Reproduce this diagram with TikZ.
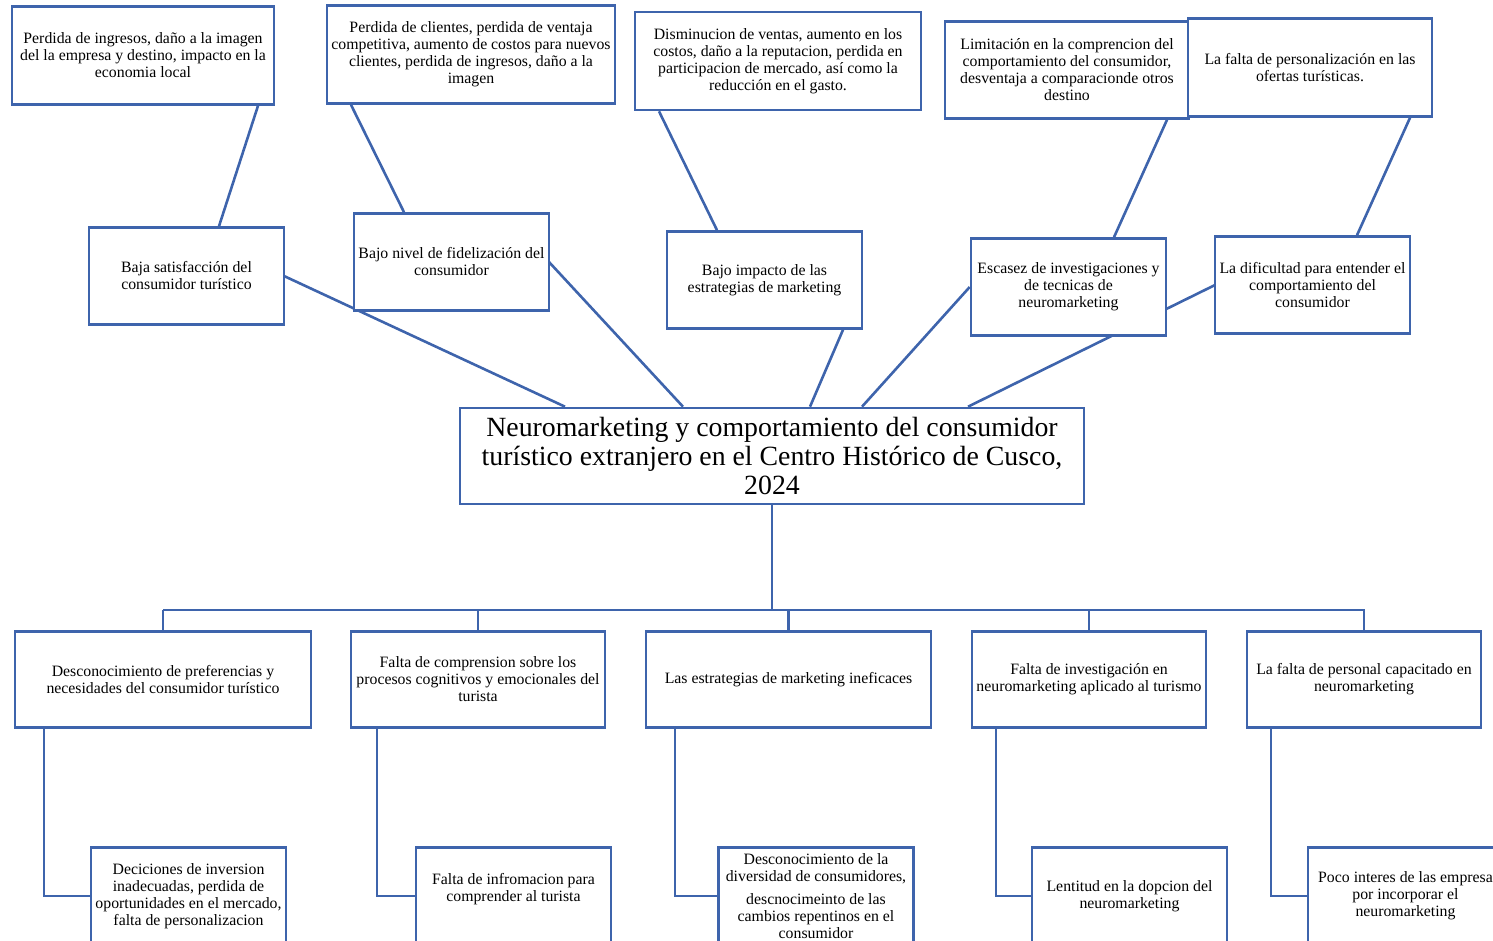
\documentclass[tikz,border=0pt]{standalone}
\usepackage{fontspec}
\setmainfont{Liberation Serif}
\definecolor{bl}{RGB}{62,100,172}
\tikzset{
  box/.style={draw=bl, line width=2.6pt, fill=white, align=center, inner sep=1pt,
    font=\fontsize{15.8}{17}\selectfont},
  wire/.style={draw=bl, line width=2.6pt},
}
\begin{document}
\begin{tikzpicture}[x=1pt,y=-1pt]
\useasboundingbox (0,0) rectangle (1493,941);
\clip (0,0) rectangle (1493,941);
% top row
\node[box, minimum width=262pt, minimum height=98pt] (T1) at (143,55.5) {Perdida de ingresos, daño a la imagen\\del la empresa y destino, impacto en la\\economia local};
\node[box, minimum width=288pt, minimum height=98pt] (T2) at (471,54.5) {Perdida de clientes, perdida de ventaja\\competitiva, aumento de costos para nuevos\\clientes, perdida de ingresos, daño a la\\imagen};
\node[box, minimum width=286pt, minimum height=98pt] (T3) at (778,61) {Disminucion de ventas, aumento en los\\costos, daño a la reputacion, perdida en\\participacion de mercado, así como la\\reducción en el gasto.};
\node[box, minimum width=244pt, minimum height=97pt] (T4) at (1067,70) {Limitación en la comprencion del\\comportamiento del consumidor,\\desventaja a comparacionde otros\\destino};
\node[box, minimum width=244pt, minimum height=98pt] (T5) at (1310,67.5) {La falta de personalización en las\\ofertas turísticas.};
% middle row anchor points
\coordinate (M1c) at (186.5,276);
\coordinate (M2c) at (451.5,262);
\coordinate (M5c) at (1312.5,285);
% center
\node[box, minimum width=624pt, minimum height=96pt, font=\fontsize{27.8}{29}\selectfont] (X) at (772,456) {Neuromarketing y comportamiento del consumidor\\turístico extranjero en el Centro Histórico de Cusco,\\2024};
% connectors middle -> center that pass behind boxes
\draw[wire] ([xshift=-207pt]X.north) -- ([xshift=97.5pt]M1c);
\draw[wire] ([xshift=-89pt]X.north) -- ([xshift=97.5pt]M2c);
\draw[wire] ([xshift=196pt]X.north) -- ([xshift=-97.5pt]M5c);
\node[box, minimum width=195pt, minimum height=97pt] (M1) at (M1c) {Baja satisfacción del\\consumidor turístico};
\node[box, minimum width=195pt, minimum height=97pt] (M2) at (M2c) {Bajo nivel de fidelización del\\consumidor};
\node[box, minimum width=195pt, minimum height=97pt] (M3) at (764.5,280) {Bajo impacto de las\\estrategias de marketing};
\node[box, minimum width=195pt, minimum height=97pt] (M4) at (1068.5,287) {Escasez de investigaciones y\\de tecnicas de\\neuromarketing};
\node[box, minimum width=195pt, minimum height=97pt] (M5) at (M5c) {La dificultad para entender el\\comportamiento del\\consumidor};
\draw[wire] ([xshift=78.5pt]M3.south) -- ([xshift=38pt]X.north);
\draw[wire] (M4.west) -- ([xshift=90pt]X.north);
% top -> middle
\draw[wire] ([xshift=115pt]T1.south) -- ([xshift=32.5pt]M1.north);
\draw[wire] ([xshift=-120pt]T2.south) -- ([xshift=-47.5pt]M2.north);
\draw[wire] ([xshift=-119pt]T3.south) -- ([xshift=-47.5pt]M3.north);
\draw[wire] ([xshift=100pt]T4.south) -- ([xshift=45.5pt]M4.north);
\draw[wire] ([xshift=100pt]T5.south) -- ([xshift=44.5pt]M5.north);
% bottom rows
\node[box, minimum width=296pt, minimum height=96pt] (B1) at (163,679.5) {Desconocimiento de preferencias y\\necesidades del consumidor turístico};
\node[box, minimum width=254pt, minimum height=96pt] (B2) at (478,679.5) {Falta de comprension sobre los\\procesos cognitivos y emocionales del\\turista};
\node[box, minimum width=285pt, minimum height=96pt] (B3) at (788.5,679.5) {Las estrategias de marketing ineficaces};
\node[box, minimum width=234pt, minimum height=96pt] (B4) at (1089,679.5) {Falta de investigación en\\neuromarketing aplicado al turismo};
\node[box, minimum width=234pt, minimum height=96pt] (B5) at (1364,679.5) {La falta de personal capacitado en\\neuromarketing};
\node[box, minimum width=195pt, minimum height=97pt] (C1) at (188.5,896) {Deciciones de inversion\\inadecuadas, perdida de\\oportunidades en el mercado,\\falta de personalizacion};
\node[box, minimum width=195pt, minimum height=97pt] (C2) at (513.5,896) {Falta de infromacion para\\comprender al turista\\\mbox{}};
\node[box, minimum width=195pt, minimum height=97pt] (C3) at (816,896) {Desconocimiento de la\\diversidad de consumidores,\\[6pt]descnocimeinto de las\\cambios repentinos en el\\consumidor};
\node[box, minimum width=195pt, minimum height=97pt] (C4) at (1129.5,896) {Lentitud en la dopcion del\\neuromarketing};
\node[box, minimum width=195pt, minimum height=97pt] (C5) at (1405.5,896) {Poco interes de las empresa\\por incorporar el\\neuromarketing};
% bus
\coordinate (busL) at (163,610);
\coordinate (busR) at (1365,610);
\draw[wire] (X.south) -- (X.south |- busL);
\draw[wire] (busL) -- (busR);
\foreach \b in {B1,B2,B3,B4,B5} { \draw[wire] (\b.north) -- (\b.north |- busL); }
% elbows
\draw[wire] ([xshift=-119pt]B1.south) |- (C1.west);
\draw[wire] ([xshift=-101pt]B2.south) |- (C2.west);
\draw[wire] ([xshift=-113.5pt]B3.south) |- (C3.west);
\draw[wire] ([xshift=-93pt]B4.south) |- (C4.west);
\draw[wire] ([xshift=-93pt]B5.south) |- (C5.west);
\end{tikzpicture}
\end{document}
